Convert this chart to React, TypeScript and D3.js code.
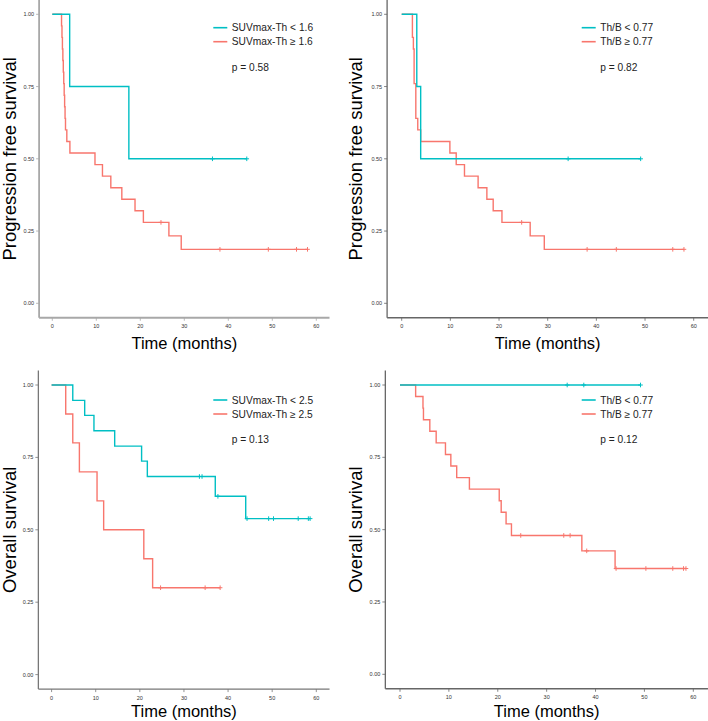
import React from "react";
import * as d3 from "d3";

// ---------- Data ----------
const timeTicks = [0, 10, 20, 30, 40, 50, 60];
const survTicks = [0, 0.25, 0.5, 0.75, 1];

// Panel 1: PFS by SUVmax-Th (cut 1.6)
const pfsSuvLowTimes = [0, 3.95, 17.4, 44.2];
const pfsSuvLowSurv = [1, 0.75, 0.5, 0.5];
const pfsSuvLowCensor = [36.4, 44.2];
const pfsSuvHighTimes = [0, 2.1, 2.2, 2.3, 2.4, 2.5, 2.6, 2.7, 2.8, 2.9, 3.0, 3.3, 4.0, 9.7, 11.4, 13.3, 15.8, 18.8, 20.7, 26.5, 29.3, 58.0];
const pfsSuvHighSurv = [1, 0.96, 0.92, 0.88, 0.84, 0.8, 0.76, 0.72, 0.68, 0.64, 0.6, 0.56, 0.52, 0.48, 0.44, 0.4, 0.36, 0.32, 0.28, 0.2333, 0.1867, 0.1867];
const pfsSuvHighCensor = [24.7, 38.1, 49.1, 55.5, 58.0];

// Panel 2: PFS by Th/B (cut 0.77)
const pfsThbLowTimes = [0, 3.1, 3.9, 49.1];
const pfsThbLowSurv = [1, 0.75, 0.5, 0.5];
const pfsThbLowCensor = [34.2, 49.1];
const pfsThbHighTimes = [0, 2.2, 2.4, 2.55, 2.9, 3.3, 3.9, 9.9, 11.2, 12.9, 15.7, 17.5, 18.8, 20.6, 26.4, 29.3, 58.0];
const pfsThbHighSurv = [1, 0.92, 0.88, 0.76, 0.64, 0.6, 0.56, 0.52, 0.48, 0.44, 0.4, 0.36, 0.32, 0.28, 0.2333, 0.1867, 0.1867];
const pfsThbHighCensor = [24.65, 38.1, 44.1, 55.7, 58.0];

// Panel 3: OS by SUVmax-Th (cut 2.5)
const osSuvLowTimes = [0, 4.8, 7.5, 9.6, 14.3, 20.4, 21.7, 37.1, 44.0, 58.6];
const osSuvLowSurv = [1, 0.947, 0.895, 0.842, 0.789, 0.737, 0.684, 0.6156, 0.5386, 0.5386];
const osSuvLowCensor = [33.5, 34.1, 37.7, 44.3, 49.2, 50.3, 55.9, 58.2, 58.6];
const osSuvHighTimes = [0, 3.2, 4.8, 6.3, 10.3, 11.8, 20.9, 22.9, 38.2];
const osSuvHighSurv = [1, 0.9, 0.8, 0.7, 0.6, 0.5, 0.4, 0.3, 0.3];
const osSuvHighCensor = [24.7, 34.8, 38.2];

// Panel 4: OS by Th/B (cut 0.77)
const osThbLowTimes = [0, 49.2];
const osThbLowSurv = [1, 1];
const osThbLowCensor = [34.2, 37.6, 49.2];
const osThbHighTimes = [0, 3.2, 4.7, 4.8, 6.1, 7.4, 9.3, 10.4, 11.6, 14.2, 20.3, 20.7, 21.7, 22.8, 37.2, 44.0, 58.5];
const osThbHighSurv = [1, 0.96, 0.92, 0.88, 0.84, 0.8, 0.76, 0.72, 0.68, 0.64, 0.6, 0.56, 0.52, 0.48, 0.4267, 0.3657, 0.3657];
const osThbHighCensor = [24.7, 33.5, 34.8, 38.2, 44.2, 50.3, 55.8, 58.0, 58.5];

const legendLabels1 = ["SUVmax-Th < 1.6", "SUVmax-Th \u2265 1.6"];
const legendLabels2 = ["Th/B < 0.77", "Th/B \u2265 0.77"];
const legendLabels3 = ["SUVmax-Th < 2.5", "SUVmax-Th \u2265 2.5"];
const legendLabels4 = ["Th/B < 0.77", "Th/B \u2265 0.77"];
const pValues = ["p = 0.58", "p = 0.82", "p = 0.13", "p = 0.12"];
const yTitles = ["Progression free survival", "Progression free survival", "Overall survival", "Overall survival"];
const xTitle = "Time (months)";

// ---------- Styles ----------
const CYAN = "#00BFC4";
const RED = "#F8766D";
const FONT = "'Liberation Sans', Arial, Helvetica, sans-serif";

type Curve = { times: number[]; surv: number[]; censor: number[]; color: string };

type PanelCfg = {
  x0: number;
  x60: number;
  y0: number;
  y1: number;
  axisColor: string;
  axisWidth: number;
  titleX: number;
  xTitleY: number;
  legendX: number;
  legendY: number;
  labels: string[];
  p: string;
  yTitle: string;
  curves: Curve[];
};

const panels: PanelCfg[] = [
  {
    x0: 52.3, x60: 316.3, y0: 303.3, y1: 14.3, axisColor: "#a8a8a8", axisWidth: 1.8,
    titleX: 15.5, xTitleY: 349.3, legendX: 213.3, legendY: 27.7, labels: legendLabels1, p: pValues[0], yTitle: yTitles[0],
    curves: [
      { times: pfsSuvHighTimes, surv: pfsSuvHighSurv, censor: pfsSuvHighCensor, color: RED },
      { times: pfsSuvLowTimes, surv: pfsSuvLowSurv, censor: pfsSuvLowCensor, color: CYAN },
    ],
  },
  {
    x0: 401.7, x60: 693.7, y0: 303.3, y1: 14.3, axisColor: "#666", axisWidth: 1.3,
    titleX: 362, xTitleY: 349.3, legendX: 581.7, legendY: 27.7, labels: legendLabels2, p: pValues[1], yTitle: yTitles[1],
    curves: [
      { times: pfsThbHighTimes, surv: pfsThbHighSurv, censor: pfsThbHighCensor, color: RED },
      { times: pfsThbLowTimes, surv: pfsThbLowSurv, censor: pfsThbLowCensor, color: CYAN },
    ],
  },
  {
    x0: 51.6, x60: 316.3, y0: 674.6, y1: 385, axisColor: "#777", axisWidth: 1.3,
    titleX: 15.5, xTitleY: 717, legendX: 213.3, legendY: 400, labels: legendLabels3, p: pValues[2], yTitle: yTitles[2],
    curves: [
      { times: osSuvHighTimes, surv: osSuvHighSurv, censor: osSuvHighCensor, color: RED },
      { times: osSuvLowTimes, surv: osSuvLowSurv, censor: osSuvLowCensor, color: CYAN },
    ],
  },
  {
    x0: 400, x60: 693.3, y0: 674.3, y1: 385, axisColor: "#666", axisWidth: 1.3,
    titleX: 362, xTitleY: 717, legendX: 581.7, legendY: 400, labels: legendLabels4, p: pValues[3], yTitle: yTitles[3],
    curves: [
      { times: osThbHighTimes, surv: osThbHighSurv, censor: osThbHighCensor, color: RED },
      { times: osThbLowTimes, surv: osThbLowSurv, censor: osThbLowCensor, color: CYAN },
    ],
  },
];

function survAt(times: number[], surv: number[], t: number) {
  const i = Math.max(0, d3.bisectRight(times, t) - 1);
  return surv[i];
}

function Panel({ cfg }: { cfg: PanelCfg }) {
  const x = d3.scaleLinear().domain([0, 60]).range([cfg.x0, cfg.x60]);
  const y = d3.scaleLinear().domain([0, 1]).range([cfg.y0, cfg.y1]);
  const xMin = x(-3), xMax = x(63);
  const yBottom = y(-0.05), yTop = y(1.05);
  const line = d3
    .line<[number, number]>()
    .x((d) => x(d[0]))
    .y((d) => y(d[1]))
    .curve(d3.curveStepAfter);
  const plotMidY = (yBottom + yTop) / 2;
  const plotMidX = (xMin + xMax) / 2;
  const tickColor = "#333";
  return (
    <g>
      {cfg.curves.map((c, ci) => (
        <g key={ci}>
          <path
            d={line(c.times.map((t, i) => [t, c.surv[i]] as [number, number])) || ""}
            fill="none"
            stroke={c.color}
            strokeWidth={1.4}
          />
          {c.censor.map((t, k) => {
            const cx = x(t);
            const cy = y(survAt(c.times, c.surv, t));
            return (
              <g key={k} stroke={c.color} strokeWidth={1}>
                <line x1={cx - 2.3} x2={cx + 2.3} y1={cy} y2={cy} />
                <line x1={cx} x2={cx} y1={cy - 2.3} y2={cy + 2.3} />
              </g>
            );
          })}
        </g>
      ))}
      <line x1={xMin} x2={xMin} y1={yTop} y2={yBottom} stroke={cfg.axisColor} strokeWidth={cfg.axisWidth} />
      <line x1={xMin} x2={xMax} y1={yBottom} y2={yBottom} stroke={cfg.axisColor} strokeWidth={cfg.axisWidth} />
      {survTicks.map((s) => (
        <g key={s}>
          <line x1={xMin - 3} x2={xMin} y1={y(s)} y2={y(s)} stroke={cfg.axisColor} strokeWidth={0.8} />
          <text x={xMin - 5} y={y(s) + 2} fontSize={5.5} textAnchor="end" fill={tickColor} fontFamily={FONT}>
            {d3.format(".2f")(s)}
          </text>
        </g>
      ))}
      {timeTicks.map((t) => (
        <g key={t}>
          <line x1={x(t)} x2={x(t)} y1={yBottom} y2={yBottom + 3} stroke={cfg.axisColor} strokeWidth={0.8} />
          <text x={x(t)} y={yBottom + 10.5} fontSize={5.5} textAnchor="middle" fill={tickColor} fontFamily={FONT}>
            {t}
          </text>
        </g>
      ))}
      <text x={plotMidX} y={cfg.xTitleY} fontSize={16.5} textAnchor="middle" fill="#000" fontFamily={FONT}>
        {xTitle}
      </text>
      <text
        transform={`translate(${cfg.titleX},${plotMidY}) rotate(-90)`}
        fontSize={18.5}
        textAnchor="middle"
        fill="#000"
        fontFamily={FONT}
      >
        {cfg.yTitle}
      </text>
      {cfg.labels.map((lab, i) => (
        <g key={lab}>
          <line
            x1={cfg.legendX}
            x2={cfg.legendX + 14}
            y1={cfg.legendY + i * 14}
            y2={cfg.legendY + i * 14}
            stroke={i === 0 ? CYAN : RED}
            strokeWidth={1.6}
          />
          <text x={cfg.legendX + 18.5} y={cfg.legendY + i * 14 + 3.7} fontSize={10.2} fill="#222" fontFamily={FONT}>
            {lab}
          </text>
        </g>
      ))}
      <text x={cfg.legendX + 18.5} y={cfg.legendY + 42.8} fontSize={10.2} fill="#222" fontFamily={FONT}>
        {cfg.p}
      </text>
    </g>
  );
}

export default function App() {
  return (
    <svg
      width={708}
      height={721}
      style={{ position: "absolute", left: 0, top: 0, background: "#fff" }}
    >
      <rect x={0} y={0} width={708} height={721} fill="#fff" />
      {panels.map((p, i) => (
        <Panel key={i} cfg={p} />
      ))}
    </svg>
  );
}
